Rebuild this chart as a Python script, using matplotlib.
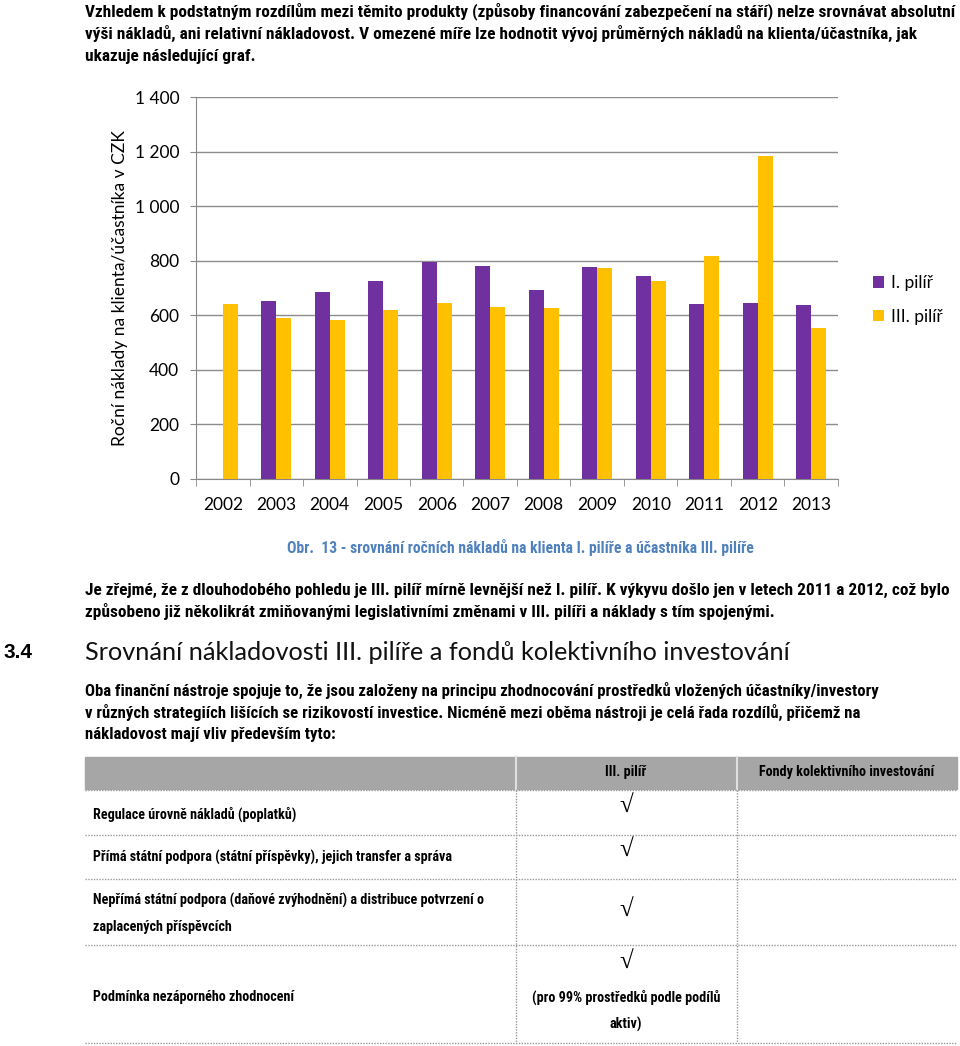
import matplotlib
matplotlib.use('Agg')
import matplotlib.pyplot as plt
import numpy as np
from matplotlib import font_manager
from matplotlib.patches import Rectangle
from matplotlib.lines import Line2D
from matplotlib.ticker import FuncFormatter, FixedLocator

#data
years = ['2002', '2003', '2004', '2005', '2006', '2007', '2008', '2009', '2010', '2011', '2012', '2013']
pilir_1 = [np.nan, 651, 684, 724, 794, 779, 692, 777, 743, 640, 644, 636]
pilir_3 = [641, 590, 582, 618, 645, 629, 628, 773, 725, 816, 1185, 552]
series_names = ['I. pilíř', 'III. pilíř']
y_ticks = [0, 200, 400, 600, 800, 1000, 1200, 1400]
y_title = 'Roční náklady na klienta/účastníka v CZK'

para_1 = ['Vzhledem k podstatným rozdílům mezi těmito produkty (způsoby financování zabezpečení na stáří) nelze srovnávat absolutní',
          'výši nákladů, ani relativní nákladovost. V omezené míře lze hodnotit vývoj průměrných nákladů na klienta/účastníka, jak',
          'ukazuje následující graf.']
caption = 'Obr.  13 - srovnání ročních nákladů na klienta I. pilíře a účastníka III. pilíře'
para_2 = ['Je zřejmé, že z dlouhodobého pohledu je III. pilíř mírně levnější než I. pilíř. K výkyvu došlo jen v letech 2011 a 2012, což bylo',
          'způsobeno již několikrát zmiňovanými legislativními změnami v III. pilíři a náklady s tím spojenými.']
heading_num = '3.4'
heading = 'Srovnání nákladovosti III. pilíře a fondů kolektivního investování'
para_3 = ['Oba finanční nástroje spojuje to, že jsou založeny na principu zhodnocování prostředků vložených účastníky/investory',
          'v různých strategiích lišících se rizikovostí investice. Nicméně mezi oběma nástroji je celá řada rozdílů, přičemž na',
          'nákladovost mají vliv především tyto:']
table_head = ['', 'III. pilíř', 'Fondy kolektivního investování']
table_rows = [['Regulace úrovně nákladů (poplatků)'],
              ['Přímá státní podpora (státní příspěvky), jejich transfer a správa'],
              ['Nepřímá státní podpora (daňové zvýhodnění) a distribuce potvrzení o', 'zaplacených příspěvcích'],
              ['Podmínka nezáporného zhodnocení']]
check_notes = ['', '', '', '(pro 99% prostředků podle podílů\naktiv)']

#fonts
names = {f.name for f in font_manager.fontManager.ttflist}
narrow = 'Roboto'
for cand in ['Liberation Sans Narrow', 'Roboto Condensed', 'Open Sans Condensed']:
    if cand in names:
        narrow = cand
        break
chart_font = 'Lato'

W, H = 960, 1046
fig = plt.figure(figsize=(W/100, H/100), dpi=100)
renderer = fig.canvas.get_renderer()

def fx(px):
    return px / W

def fy(py):
    return 1 - py / H

def fit_size(s, target, **kw):
    t = fig.text(0, 0, s, fontsize=12, **kw)
    w = t.get_window_extent(renderer=renderer).width
    t.remove()
    return 12 * target / w

#paragraph text
body = dict(family=narrow, weight='bold')
fs_body = fit_size(para_1[0], 870, **body)
for i, line in enumerate(para_1):
    fig.text(fx(85), fy(11 + 22.5*i), line, fontsize=fs_body, va='center', **body)

#chart
ax = fig.add_axes([fx(196), fy(479), (838-196)/W, (479-97)/H])
x = np.arange(len(years))
bw = 0.28
c1, c3 = '#7030A0', '#FFC000'
b1 = ax.bar(x - bw/2, pilir_1, bw, color=c1, label=series_names[0], zorder=3)
b3 = ax.bar(x + bw/2, pilir_3, bw, color=c3, label=series_names[1], zorder=3)
ax.set_xlim(-0.5, len(years) - 0.5)
ax.set_ylim(0, 1400)
ax.set_yticks(y_ticks)
ax.yaxis.set_major_formatter(FuncFormatter(lambda v, p: f'{int(v):,}'.replace(',', ' ')))
ax.set_xticks(x)
ax.set_xticklabels(years)
ax.xaxis.set_minor_locator(FixedLocator(np.arange(-0.5, len(years), 1.0)))
ax.tick_params(axis='x', which='major', length=0, pad=13)
ax.tick_params(axis='x', which='minor', length=5, color='#888888')
ax.tick_params(axis='y', length=4, color='#888888', pad=8)
for lab in ax.get_xticklabels() + ax.get_yticklabels():
    lab.set_family(chart_font)
    lab.set_fontsize(12.5)
ax.grid(axis='y', color='#8c8c8c', linewidth=1, zorder=0)
for s in ['top', 'right']:
    ax.spines[s].set_visible(False)
for s in ['left', 'bottom']:
    ax.spines[s].set_color('#888888')
fig.text(fx(120), fy(288), y_title, rotation=90, ha='center', va='center',
         family=chart_font, fontsize=12.5)
fig.legend(handles=[b1, b3], loc='center left', bbox_to_anchor=(fx(857), fy(300)),
           frameon=False, handlelength=0.65, handleheight=0.65, handletextpad=0.4,
           labelspacing=1.0, prop={'family': chart_font, 'size': 12.5})

#caption
cap = dict(family=narrow, weight='bold', color='#4F81BD')
fig.text(fx(520), fy(548), caption, ha='center', va='center',
         fontsize=fit_size(caption, 465, **cap), **cap)

fs_p2 = fit_size(para_2[0], 861, **body)
for i, line in enumerate(para_2):
    fig.text(fx(85), fy(590 + 22*i), line, fontsize=fs_p2, va='center', **body)

#heading
fig.text(fx(4), fy(652), heading_num, fontsize=15, weight='bold', family='Liberation Sans', va='center')
hd = dict(family=chart_font, weight='normal', color='#111111')
fig.text(fx(85), fy(652), heading, fontsize=fit_size(heading, 705, **hd), va='center', **hd)

fs_p3 = fit_size(para_3[0], 797, **body)
for i, line in enumerate(para_3):
    fig.text(fx(85), fy(690 + 22*i), line, fontsize=fs_p3, va='center', **body)

#table
tb = dict(family=narrow, weight='bold')
fs_tb = fit_size(table_rows[0][0], 204, **tb)
col_x = [85, 516, 737, 957]
head_top, head_bot = 757, 789
fig.patches.append(Rectangle((fx(85), fy(head_bot)), fx(957) - fx(85), fy(head_top) - fy(head_bot),
                             transform=fig.transFigure, color='#A6A6A6', zorder=1))
for cx in col_x[1:3]:
    fig.lines.append(Line2D([fx(cx), fx(cx)], [fy(head_top), fy(head_bot)], transform=fig.transFigure,
                            color='#e0e0e0', linewidth=1.5, zorder=2))
fig.text(fx(626), fy(772), table_head[1], ha='center', va='center', fontsize=fs_tb, **tb)
fig.text(fx(847), fy(772), table_head[2], ha='center', va='center', fontsize=fs_tb, **tb)

row_edges = [790, 835, 879, 945, 1043]
for ry in row_edges:
    fig.lines.append(Line2D([fx(85), fx(957)], [fy(ry), fy(ry)], transform=fig.transFigure,
                            color='#999999', linewidth=1, linestyle=(0, (1, 1))))
for cx in col_x[1:3]:
    fig.lines.append(Line2D([fx(cx), fx(cx)], [fy(790), fy(1043)], transform=fig.transFigure,
                            color='#999999', linewidth=1, linestyle=(0, (1, 1))))

label_y = [814, 857, [900, 927], 997]
check_y = [806, 850, 910, 962]
for i, row in enumerate(table_rows):
    ys = label_y[i] if isinstance(label_y[i], list) else [label_y[i]]
    for line, ly in zip(row, ys):
        fig.text(fx(93), fy(ly), line, fontsize=fs_tb, va='center', **tb)
    fig.text(fx(626), fy(check_y[i]), '\u221a', ha='center', va='center', fontsize=18,
             family='Liberation Serif')
    if check_notes[i]:
        fig.text(fx(626), fy(1011), check_notes[i], ha='center', va='center', fontsize=fs_tb,
                 linespacing=2.0, **tb)

fig.savefig('out.png', dpi=100)
